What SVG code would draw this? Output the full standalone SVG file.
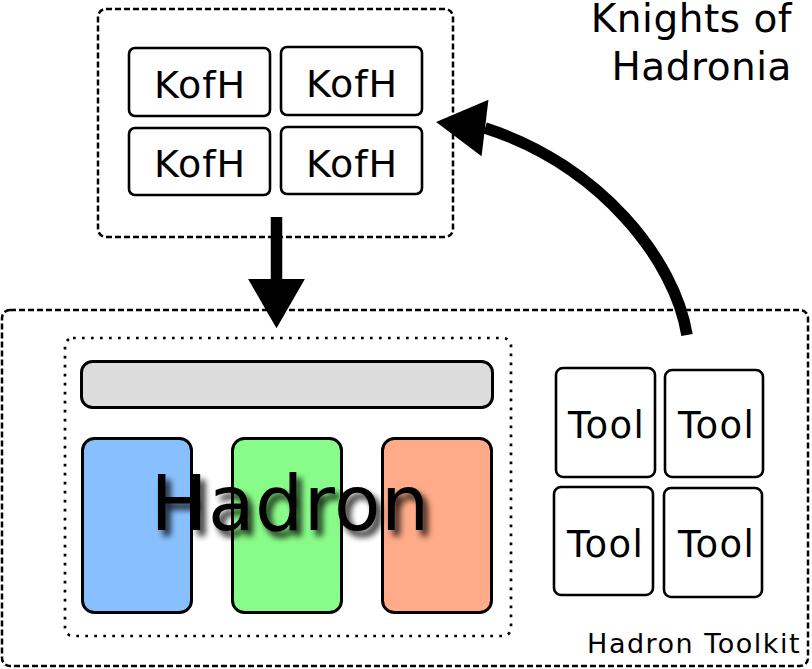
<svg xmlns="http://www.w3.org/2000/svg" width="812" height="669" viewBox="0 0 812 669">
<style>
.dash{fill:none;stroke:#000;stroke-width:2.5;stroke-dasharray:6 3}
.dot{fill:none;stroke:#000;stroke-width:2.7;stroke-dasharray:2.7 6.3}
.box{fill:#fff;stroke:#000;stroke-width:2.6}
.col{stroke:#000;stroke-width:3}
.t{font-family:"DejaVu Sans",Verdana,sans-serif;fill:#000}
.conn{fill:none;stroke:#000;stroke-width:11.5}
</style>
<defs>
<marker id="head" markerUnits="userSpaceOnUse" markerWidth="60" markerHeight="60" viewBox="-2 -28 50 56" refX="0" refY="0" orient="auto">
<path d="M0,-26.5 L46,0 L0,26.5 z" fill="#000"/>
</marker>
<marker id="head2" markerUnits="userSpaceOnUse" markerWidth="60" markerHeight="60" viewBox="-2 -28 50 56" refX="0" refY="0" orient="187">
<path d="M0,-26.5 L46,0 L0,26.5 z" fill="#000"/>
</marker>
<filter id="shadow" x="-10%" y="-20%" width="130%" height="150%">
<feGaussianBlur in="SourceAlpha" stdDeviation="3"/>
<feOffset dx="5" dy="6" result="b"/>
<feComponentTransfer><feFuncA type="linear" slope="0.85"/></feComponentTransfer>
<feMerge><feMergeNode/><feMergeNode in="SourceGraphic"/></feMerge>
</filter>
</defs>
<rect width="812" height="669" fill="#fff"/>

<g id="knights">
<rect class="dash" x="98" y="9" width="355" height="228" rx="8"/>
<text class="t" x="792" y="31.5" font-size="39" letter-spacing="0.5" text-anchor="end">Knights of</text>
<text class="t" x="792" y="80" font-size="39" letter-spacing="0.5" text-anchor="end">Hadronia</text>
</g>
<g id="kofh1"><rect class="box" x="129" y="48" width="141" height="68" rx="6"/><text class="t" x="200" y="98" font-size="38" letter-spacing="1" text-anchor="middle">KofH</text></g>
<g id="kofh2"><rect class="box" x="281" y="47" width="141" height="68" rx="6"/><text class="t" x="352" y="97" font-size="38" letter-spacing="1" text-anchor="middle">KofH</text></g>
<g id="kofh3"><rect class="box" x="129" y="128" width="141" height="67" rx="6"/><text class="t" x="200" y="177" font-size="38" letter-spacing="1" text-anchor="middle">KofH</text></g>
<g id="kofh4"><rect class="box" x="281" y="127" width="141" height="67" rx="6"/><text class="t" x="352" y="177" font-size="38" letter-spacing="1" text-anchor="middle">KofH</text></g>

<g id="toolkit">
<rect class="dash" x="2" y="310" width="806" height="356" rx="8"/>
<text class="t" x="801" y="653" font-size="27" letter-spacing="1.5" text-anchor="end">Hadron Toolkit</text>
</g>

<g id="hadron">
<rect class="dot" x="65" y="338" width="446" height="298" rx="8"/>
<rect class="col" x="81.5" y="361.5" width="411" height="46" rx="11" fill="#dcdcdc"/>
<rect class="col" x="82.5" y="438.5" width="109" height="174" rx="12" fill="#88c0ff"/>
<rect class="col" x="232.5" y="438.5" width="109" height="174" rx="12" fill="#88fc88"/>
<rect class="col" x="382.5" y="438.5" width="109" height="174" rx="12" fill="#ffaa88"/>
<text class="t" x="290" y="530" font-size="76" letter-spacing="0.5" text-anchor="middle" filter="url(#shadow)">Hadron</text>
</g>

<g id="tool1"><rect class="box" x="556" y="368" width="99" height="109" rx="7"/><text class="t" x="606.5" y="438" font-size="37" letter-spacing="1.3" text-anchor="middle">Tool</text></g>
<g id="tool2"><rect class="box" x="665" y="370" width="98" height="107" rx="7"/><text class="t" x="716.5" y="438" font-size="37" letter-spacing="1.3" text-anchor="middle">Tool</text></g>
<g id="tool3"><rect class="box" x="554" y="487" width="99" height="108" rx="7"/><text class="t" x="605.5" y="557" font-size="37" letter-spacing="1.3" text-anchor="middle">Tool</text></g>
<g id="tool4"><rect class="box" x="664" y="488" width="98" height="109" rx="7"/><text class="t" x="716.5" y="557" font-size="37" letter-spacing="1.3" text-anchor="middle">Tool</text></g>

<g id="connectors">
<path class="conn" d="M276.5,217 L276.5,279" marker-end="url(#head)"/>
<path class="conn" d="M687,335 C675,260 600,165 485,128" marker-end="url(#head2)"/>
</g>
</svg>
